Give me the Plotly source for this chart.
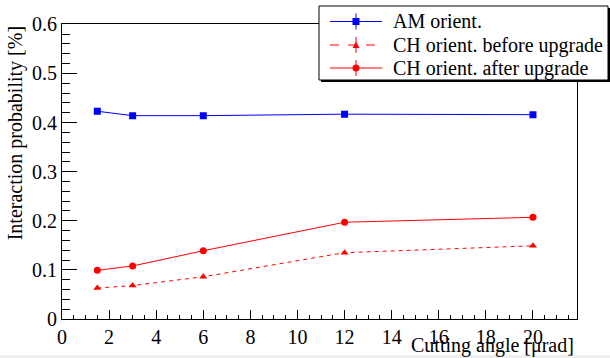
import plotly.graph_objects as go

# ---- data ----
angles = [1.5, 3, 6, 12, 20]
am_orient = [0.423, 0.414, 0.414, 0.417, 0.416]
ch_before = [0.063, 0.068, 0.086, 0.135, 0.149]
ch_after = [0.099, 0.108, 0.139, 0.197, 0.207]
legend_labels = ["AM orient.", "CH orient. before upgrade", "CH orient. after upgrade"]
x_ticks = [0, 2, 4, 6, 8, 10, 12, 14, 16, 18, 20]
y_ticks = [0, 0.1, 0.2, 0.3, 0.4, 0.5, 0.6]

W, H = 610, 358
FONT = "Liberation Serif"
BLUE = "#0000ff"
RED = "#ff0000"

# plot area in pixels
L, R, T, B = 62, 577, 24.3, 319


def px(x):
    return x / W


def py(y):
    return 1 - y / H


fig = go.Figure()
fig.add_trace(go.Scatter(x=angles, y=am_orient, mode="lines+markers", name=legend_labels[0],
                         line=dict(color=BLUE, width=1),
                         marker=dict(symbol="square", size=7, color=BLUE)))
fig.add_trace(go.Scatter(x=angles, y=ch_before, mode="lines+markers", name=legend_labels[1],
                         line=dict(color=RED, width=1, dash="4px,4px"),
                         marker=dict(symbol="triangle-up", size=7, color=RED)))
fig.add_trace(go.Scatter(x=angles, y=ch_after, mode="lines+markers", name=legend_labels[2],
                         line=dict(color=RED, width=1),
                         marker=dict(symbol="circle", size=7, color=RED)))

axis_common = dict(
    showgrid=False, zeroline=False, showline=True, linecolor="black", linewidth=1,
    mirror=True, ticks="inside", tickcolor="black", tickwidth=1, automargin=False,
    tickfont=dict(family=FONT, size=20, color="black"),
)
fig.update_xaxes(**axis_common, range=[0, 21.87], tickvals=x_ticks, ticklen=9,
                 minor=dict(dtick=0.5, tick0=0, ticks="inside", ticklen=4.5, tickcolor="black"),
                 domain=[px(L), px(R)])
fig.update_yaxes(**axis_common, range=[0, 0.6], tickvals=y_ticks, ticklen=15,
                 minor=dict(dtick=0.02, tick0=0, ticks="inside", ticklen=7.5, tickcolor="black"),
                 domain=[py(B), py(T)])

shapes = []
annotations = []

# axis titles
annotations.append(dict(text="Interaction probability [%]", x=px(15), y=py(T), xref="paper", yref="paper",
                        xanchor="center", yanchor="top", textangle=-90, showarrow=False,
                        font=dict(family=FONT, size=20, color="black")))
annotations.append(dict(text="Cutting angle [\u03bcrad]", x=px(576), y=py(345), xref="paper", yref="paper",
                        xanchor="right", yanchor="middle", showarrow=False,
                        font=dict(family=FONT, size=20, color="black")))

# legend (drawn manually to mirror ROOT TLegend)
lx0, ly0, lx1, ly1 = 319, 6, 608, 80
shapes.append(dict(type="rect", xref="paper", yref="paper", x0=px(lx0 + 2), x1=px(lx1 + 2),
                   y0=py(ly0 + 2), y1=py(ly1 + 2), fillcolor="black", line=dict(width=0), layer="above"))
shapes.append(dict(type="rect", xref="paper", yref="paper", x0=px(lx0), x1=px(lx1),
                   y0=py(ly0), y1=py(ly1), fillcolor="white", line=dict(color="black", width=1), layer="above"))

rows = [21.5, 45, 68]
styles = [(BLUE, "solid", "square"), (RED, "dash", "triangle"), (RED, "solid", "circle")]
mx = 356
for label, yc, (col, dash, sym) in zip(legend_labels, rows, styles):
    shapes.append(dict(type="line", xref="paper", yref="paper", x0=px(330), x1=px(382),
                       y0=py(yc), y1=py(yc), line=dict(color=col, width=1, dash=dash), layer="above"))
    shapes.append(dict(type="line", xref="paper", yref="paper", x0=px(mx), x1=px(mx),
                       y0=py(yc - 8), y1=py(yc + 8), line=dict(color=col, width=1), layer="above"))
    s = 3.5
    if sym == "square":
        shapes.append(dict(type="rect", xref="paper", yref="paper", x0=px(mx - s), x1=px(mx + s),
                           y0=py(yc - s), y1=py(yc + s), fillcolor=col, line=dict(width=0), layer="above"))
    elif sym == "circle":
        shapes.append(dict(type="circle", xref="paper", yref="paper", x0=px(mx - s), x1=px(mx + s),
                           y0=py(yc - s), y1=py(yc + s), fillcolor=col, line=dict(width=0), layer="above"))
    else:
        path = "M {} {} L {} {} L {} {} Z".format(px(mx - s), py(yc + 3), px(mx + s), py(yc + 3),
                                                 px(mx), py(yc - 3.5))
        shapes.append(dict(type="path", xref="paper", yref="paper", path=path, fillcolor=col,
                           line=dict(width=0), layer="above"))
    annotations.append(dict(text=label, x=px(391), y=py(yc), xref="paper", yref="paper",
                            xanchor="left", yanchor="middle", showarrow=False,
                            font=dict(family=FONT, size=20, color="black")))

# light strip at the bottom of the reference image
shapes.append(dict(type="rect", xref="paper", yref="paper", x0=0, x1=1, y0=0, y1=py(355),
                   fillcolor="#efefef", line=dict(width=0), layer="below"))

fig.update_layout(
    width=W, height=H, margin=dict(l=0, r=0, t=0, b=0, autoexpand=False),
    paper_bgcolor="white", plot_bgcolor="white", showlegend=False,
    shapes=shapes, annotations=annotations,
    font=dict(family=FONT, size=20, color="black"),
)

fig.write_html("out.html", config={"displayModeBar": False, "staticPlot": True},
               post_script="document.body.style.margin='0';document.body.style.overflow='hidden';")
